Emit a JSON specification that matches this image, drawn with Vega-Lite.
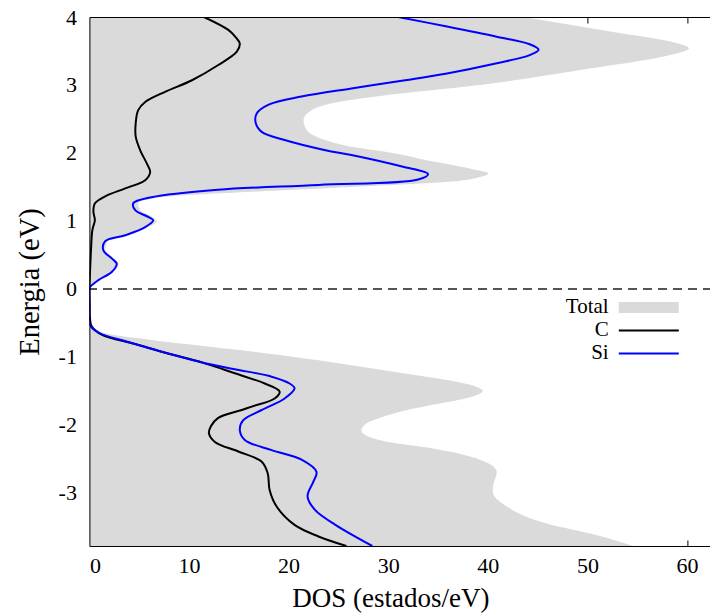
{
  "$schema": "https://vega.github.io/schema/vega-lite/v6.json",
  "width": 622,
  "height": 529,
  "autosize": "none",
  "padding": {"left": 89.4, "top": 17, "right": 0, "bottom": 70},
  "background": "white",
  "config": {
    "view": {"stroke": null},
    "font": "Liberation Serif",
    "axis": {
      "grid": false,
      "domainColor": "black",
      "domainWidth": 1,
      "labelColor": "black",
      "labelFont": "Liberation Serif",
      "labelFontSize": 22,
      "titleFont": "Liberation Serif",
      "titleFontSize": 27,
      "titleFontWeight": "normal",
      "titleColor": "black"
    }
  },
  "data": {
    "values": [
      {"s": "Total", "E": -3.78, "d": 54.6},
      {"s": "Total", "E": -3.62, "d": 50.9},
      {"s": "Total", "E": -3.45, "d": 45.9},
      {"s": "Total", "E": -3.2, "d": 41.9},
      {"s": "Total", "E": -2.98, "d": 40.5},
      {"s": "Total", "E": -2.88, "d": 40.55},
      {"s": "Total", "E": -2.69, "d": 40.9},
      {"s": "Total", "E": -2.51, "d": 39.2},
      {"s": "Total", "E": -2.34, "d": 34.2},
      {"s": "Total", "E": -2.25, "d": 30.0},
      {"s": "Total", "E": -2.17, "d": 28.0},
      {"s": "Total", "E": -2.08, "d": 27.3},
      {"s": "Total", "E": -1.98, "d": 27.8},
      {"s": "Total", "E": -1.88, "d": 29.5},
      {"s": "Total", "E": -1.78, "d": 31.9},
      {"s": "Total", "E": -1.71, "d": 34.2},
      {"s": "Total", "E": -1.58, "d": 38.5},
      {"s": "Total", "E": -1.5, "d": 39.5},
      {"s": "Total", "E": -1.44, "d": 38.9},
      {"s": "Total", "E": -1.34, "d": 35.9},
      {"s": "Total", "E": -1.24, "d": 31.5},
      {"s": "Total", "E": -1.12, "d": 26.3},
      {"s": "Total", "E": -0.92, "d": 16.3},
      {"s": "Total", "E": -0.75, "d": 6.25},
      {"s": "Total", "E": -0.67, "d": 2.2},
      {"s": "Total", "E": -0.6, "d": 0.7},
      {"s": "Total", "E": -0.55, "d": 0.2},
      {"s": "Total", "E": -0.45, "d": 0.05},
      {"s": "Total", "E": -0.3, "d": 0},
      {"s": "Total", "E": 0, "d": 0},
      {"s": "Total", "E": 0.03, "d": 0.1},
      {"s": "Total", "E": 0.13, "d": 1.0},
      {"s": "Total", "E": 0.25, "d": 2.4},
      {"s": "Total", "E": 0.37, "d": 2.95},
      {"s": "Total", "E": 0.45, "d": 2.45},
      {"s": "Total", "E": 0.57, "d": 1.6},
      {"s": "Total", "E": 0.7, "d": 1.8},
      {"s": "Total", "E": 0.79, "d": 3.8},
      {"s": "Total", "E": 0.91, "d": 5.9},
      {"s": "Total", "E": 1.0, "d": 6.75},
      {"s": "Total", "E": 1.06, "d": 6.3},
      {"s": "Total", "E": 1.16, "d": 5.1},
      {"s": "Total", "E": 1.26, "d": 4.9},
      {"s": "Total", "E": 1.36, "d": 7.9},
      {"s": "Total", "E": 1.43, "d": 16.3},
      {"s": "Total", "E": 1.5, "d": 26.3},
      {"s": "Total", "E": 1.58, "d": 36.4},
      {"s": "Total", "E": 1.65, "d": 39.3},
      {"s": "Total", "E": 1.7, "d": 40.05},
      {"s": "Total", "E": 1.76, "d": 38.5},
      {"s": "Total", "E": 1.87, "d": 34.7},
      {"s": "Total", "E": 2.02, "d": 29.7},
      {"s": "Total", "E": 2.1, "d": 26.0},
      {"s": "Total", "E": 2.19, "d": 23.65},
      {"s": "Total", "E": 2.34, "d": 21.8},
      {"s": "Total", "E": 2.49, "d": 21.5},
      {"s": "Total", "E": 2.63, "d": 22.3},
      {"s": "Total", "E": 2.75, "d": 25.0},
      {"s": "Total", "E": 2.84, "d": 29.2},
      {"s": "Total", "E": 3.0, "d": 39.2},
      {"s": "Total", "E": 3.22, "d": 49.3},
      {"s": "Total", "E": 3.44, "d": 58.3},
      {"s": "Total", "E": 3.54, "d": 60.2},
      {"s": "Total", "E": 3.64, "d": 58.3},
      {"s": "Total", "E": 3.78, "d": 52.6},
      {"s": "Total", "E": 4.0, "d": 43.6},

      {"s": "C", "E": -3.78, "d": 25.8},
      {"s": "C", "E": -3.64, "d": 23.0},
      {"s": "C", "E": -3.47, "d": 20.6},
      {"s": "C", "E": -3.2, "d": 18.8},
      {"s": "C", "E": -2.96, "d": 18.1},
      {"s": "C", "E": -2.71, "d": 17.9},
      {"s": "C", "E": -2.54, "d": 17.3},
      {"s": "C", "E": -2.39, "d": 14.95},
      {"s": "C", "E": -2.25, "d": 12.6},
      {"s": "C", "E": -2.12, "d": 12.0},
      {"s": "C", "E": -2.02, "d": 12.2},
      {"s": "C", "E": -1.9, "d": 12.9},
      {"s": "C", "E": -1.78, "d": 15.3},
      {"s": "C", "E": -1.73, "d": 16.3},
      {"s": "C", "E": -1.61, "d": 18.6},
      {"s": "C", "E": -1.51, "d": 19.1},
      {"s": "C", "E": -1.39, "d": 17.6},
      {"s": "C", "E": -1.24, "d": 14.6},
      {"s": "C", "E": -1.08, "d": 11.3},
      {"s": "C", "E": -0.95, "d": 7.9},
      {"s": "C", "E": -0.81, "d": 4.6},
      {"s": "C", "E": -0.67, "d": 1.23},
      {"s": "C", "E": -0.55, "d": 0.23},
      {"s": "C", "E": -0.43, "d": 0.06},
      {"s": "C", "E": -0.2, "d": 0.02},
      {"s": "C", "E": 0, "d": 0},
      {"s": "C", "E": 0.24, "d": 0.06},
      {"s": "C", "E": 0.57, "d": 0.16},
      {"s": "C", "E": 0.87, "d": 0.3},
      {"s": "C", "E": 1.01, "d": 0.55},
      {"s": "C", "E": 1.14, "d": 0.4},
      {"s": "C", "E": 1.26, "d": 0.56},
      {"s": "C", "E": 1.36, "d": 1.55},
      {"s": "C", "E": 1.48, "d": 3.6},
      {"s": "C", "E": 1.6, "d": 5.6},
      {"s": "C", "E": 1.72, "d": 6.1},
      {"s": "C", "E": 1.85, "d": 5.75},
      {"s": "C", "E": 2.04, "d": 5.1},
      {"s": "C", "E": 2.24, "d": 4.65},
      {"s": "C", "E": 2.44, "d": 4.65},
      {"s": "C", "E": 2.63, "d": 4.9},
      {"s": "C", "E": 2.75, "d": 5.6},
      {"s": "C", "E": 2.9, "d": 7.6},
      {"s": "C", "E": 3.07, "d": 10.3},
      {"s": "C", "E": 3.29, "d": 12.9},
      {"s": "C", "E": 3.49, "d": 14.8},
      {"s": "C", "E": 3.61, "d": 15.1},
      {"s": "C", "E": 3.7, "d": 14.7},
      {"s": "C", "E": 3.81, "d": 13.95},
      {"s": "C", "E": 4.0, "d": 11.5},

      {"s": "Si", "E": -3.78, "d": 28.4},
      {"s": "Si", "E": -3.47, "d": 24.7},
      {"s": "Si", "E": -3.25, "d": 22.65},
      {"s": "Si", "E": -3.05, "d": 21.9},
      {"s": "Si", "E": -2.83, "d": 22.5},
      {"s": "Si", "E": -2.69, "d": 22.8},
      {"s": "Si", "E": -2.51, "d": 21.3},
      {"s": "Si", "E": -2.37, "d": 18.3},
      {"s": "Si", "E": -2.22, "d": 15.6},
      {"s": "Si", "E": -2.07, "d": 15.1},
      {"s": "Si", "E": -1.93, "d": 15.45},
      {"s": "Si", "E": -1.78, "d": 17.3},
      {"s": "Si", "E": -1.61, "d": 19.6},
      {"s": "Si", "E": -1.46, "d": 20.6},
      {"s": "Si", "E": -1.39, "d": 20.1},
      {"s": "Si", "E": -1.29, "d": 18.3},
      {"s": "Si", "E": -1.18, "d": 14.6},
      {"s": "Si", "E": -1.08, "d": 11.3},
      {"s": "Si", "E": -0.95, "d": 7.9},
      {"s": "Si", "E": -0.78, "d": 3.9},
      {"s": "Si", "E": -0.64, "d": 0.9},
      {"s": "Si", "E": -0.53, "d": 0.06},
      {"s": "Si", "E": -0.3, "d": 0.01},
      {"s": "Si", "E": 0, "d": 0},
      {"s": "Si", "E": 0.03, "d": 0.06},
      {"s": "Si", "E": 0.13, "d": 0.9},
      {"s": "Si", "E": 0.25, "d": 2.24},
      {"s": "Si", "E": 0.37, "d": 2.74},
      {"s": "Si", "E": 0.45, "d": 2.24},
      {"s": "Si", "E": 0.57, "d": 1.4},
      {"s": "Si", "E": 0.7, "d": 1.57},
      {"s": "Si", "E": 0.79, "d": 3.6},
      {"s": "Si", "E": 0.91, "d": 5.6},
      {"s": "Si", "E": 1.01, "d": 6.4},
      {"s": "Si", "E": 1.06, "d": 5.9},
      {"s": "Si", "E": 1.16, "d": 4.6},
      {"s": "Si", "E": 1.26, "d": 4.4},
      {"s": "Si", "E": 1.35, "d": 6.25},
      {"s": "Si", "E": 1.46, "d": 12.9},
      {"s": "Si", "E": 1.53, "d": 23.0},
      {"s": "Si", "E": 1.61, "d": 33.0},
      {"s": "Si", "E": 1.69, "d": 34.0},
      {"s": "Si", "E": 1.8, "d": 31.4},
      {"s": "Si", "E": 1.97, "d": 26.3},
      {"s": "Si", "E": 2.04, "d": 23.7},
      {"s": "Si", "E": 2.19, "d": 19.6},
      {"s": "Si", "E": 2.31, "d": 17.3},
      {"s": "Si", "E": 2.44, "d": 16.7},
      {"s": "Si", "E": 2.58, "d": 16.8},
      {"s": "Si", "E": 2.71, "d": 18.0},
      {"s": "Si", "E": 2.83, "d": 21.3},
      {"s": "Si", "E": 2.95, "d": 26.3},
      {"s": "Si", "E": 3.07, "d": 31.7},
      {"s": "Si", "E": 3.17, "d": 35.9},
      {"s": "Si", "E": 3.32, "d": 40.9},
      {"s": "Si", "E": 3.44, "d": 44.2},
      {"s": "Si", "E": 3.52, "d": 45.1},
      {"s": "Si", "E": 3.6, "d": 44.2},
      {"s": "Si", "E": 3.71, "d": 40.9},
      {"s": "Si", "E": 3.86, "d": 35.9},
      {"s": "Si", "E": 4.0, "d": 31.0}
    ]
  },
  "resolve": {"axis": {"x": "independent", "y": "independent"}},
  "layer": [
    {
      "transform": [{"filter": "datum.s === 'Total'"}],
      "mark": {"type": "area", "orient": "horizontal", "interpolate": "monotone", "clip": true},
      "encoding": {
        "y": {
          "field": "E", "type": "quantitative",
          "scale": {"domain": [-3.78, 4], "nice": false, "zero": false},
          "axis": {
            "orient": "left", "values": [-3, -2, -1, 0, 1, 2, 3, 4],
            "labelExpr": "'' + datum.value",
            "ticks": false, "labelPadding": 13,
            "title": "Energia (eV)", "titleFontSize": 28.5, "titlePadding": 14, "zindex": 1
          }
        },
        "x": {
          "field": "d", "type": "quantitative", "stack": null,
          "scale": {"domain": [0, 62.45], "nice": false},
          "axis": {
            "orient": "bottom", "values": [0, 10, 20, 30, 40, 50, 60],
            "tickSize": -6, "tickColor": "black",
            "tickOpacity": {"condition": {"test": "datum.value > 55", "value": 1}, "value": 0},
            "labelPadding": 16,
            "title": "DOS (estados/eV)", "titleX": 301, "titlePadding": 9, "zindex": 1
          }
        },
        "color": {
          "field": "s", "type": "nominal",
          "scale": {"domain": ["Total", "C", "Si"], "range": ["#dadada", "#000000", "#0000ff"]},
          "legend": {
            "orient": "none", "legendX": 548.9, "legendY": 280,
            "title": null, "values": ["Total", "C", "Si"],
            "symbolType": "stroke", "symbolSize": 400, "symbolStrokeWidth": 2,
            "labelAlign": "right", "labelOffset": -50.6,
            "labelFont": "Liberation Serif", "labelFontSize": 21, "labelColor": "black",
            "rowPadding": 1, "padding": 0,
            "encode": {
              "symbols": {
                "update": {
                  "size": {"value": 3600},
                  "shape": {"signal": "datum.value === 'Total' ? 'M-1,-0.183H1V0.183H-1Z' : 'stroke'"},
                  "fill": {"signal": "datum.value === 'Total' ? '#dadada' : 'transparent'"},
                  "strokeWidth": {"signal": "datum.value === 'Total' ? 0 : 2"}
                }
              }
            }
          }
        }
      }
    },
    {
      "mark": {"type": "rule", "strokeDash": [8, 7], "color": "#555555", "strokeWidth": 1},
      "encoding": {"y": {"datum": 0, "axis": null}}
    },
    {
      "transform": [{"filter": "datum.s === 'C'"}],
      "mark": {"type": "line", "interpolate": "catmull-rom", "strokeWidth": 2, "clip": true},
      "encoding": {
        "y": {"field": "E", "type": "quantitative", "axis": null},
        "x": {
          "field": "d", "type": "quantitative",
          "axis": {
            "orient": "top", "labels": false, "title": null, "values": [50, 60],
            "tickSize": -6, "tickColor": "black", "domain": true, "zindex": 1
          }
        },
        "order": {"field": "E", "type": "quantitative"},
        "color": {"field": "s", "type": "nominal"}
      }
    },
    {
      "transform": [{"filter": "datum.s === 'Si'"}],
      "mark": {"type": "line", "interpolate": "catmull-rom", "strokeWidth": 2, "clip": true},
      "encoding": {
        "y": {"field": "E", "type": "quantitative", "axis": null},
        "x": {"field": "d", "type": "quantitative", "axis": null},
        "order": {"field": "E", "type": "quantitative"},
        "color": {"field": "s", "type": "nominal"}
      }
    }
  ]
}
